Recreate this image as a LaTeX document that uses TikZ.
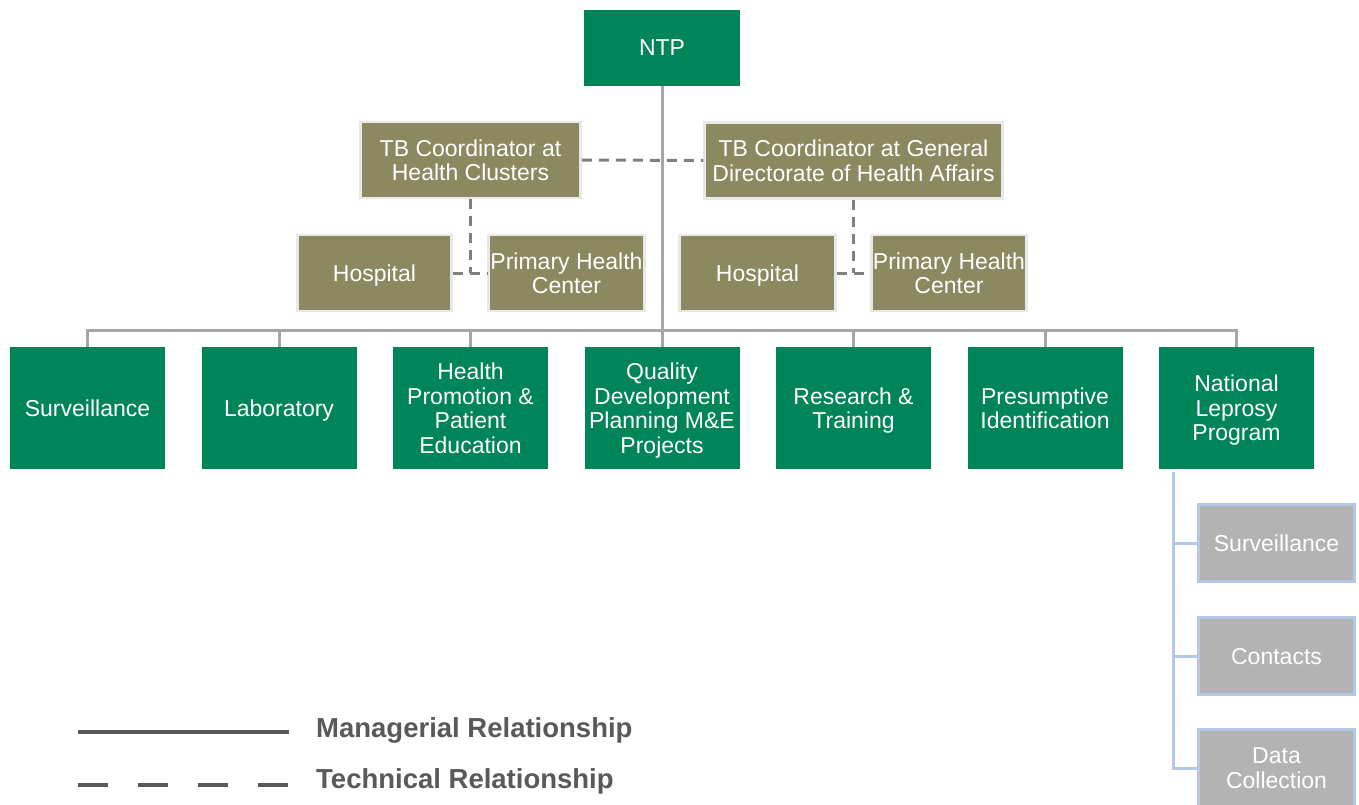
\documentclass[tikz,border=0pt]{standalone}
\usepackage{fontspec}
\setmainfont{Liberation Sans}
\definecolor{ntpgreen}{HTML}{00855A}
\definecolor{olivebox}{HTML}{8C8960}
\definecolor{oliveedge}{HTML}{E8E8E8}
\definecolor{subgray}{HTML}{B3B3B3}
\definecolor{subblue}{HTML}{B4C7E7}
\definecolor{linegray}{HTML}{A6A6A6}
\definecolor{dashgray}{HTML}{808080}
\definecolor{legendgray}{HTML}{595959}
\tikzset{
  boxbase/.style={rectangle, inner sep=0pt, align=center, text=white, text depth=0pt,
    font=\fontsize{23}{24.5}\selectfont},
  greenbox/.style={boxbase, fill=ntpgreen, minimum width=155pt, minimum height=122pt},
  ntpbox/.style={boxbase, fill=ntpgreen, minimum width=156pt, minimum height=76pt},
  olivenode/.style={boxbase, fill=olivebox, draw=oliveedge, line width=2.5pt, minimum height=76pt},
  subbox/.style={boxbase, fill=subgray, draw=subblue, line width=3pt, minimum width=156pt, minimum height=77pt},
  mgr/.style={draw=linegray, line width=3pt},
  tech/.style={draw=dashgray, line width=3pt, dash pattern=on 10pt off 7pt},
  subline/.style={draw=subblue, line width=3pt},
  legline/.style={draw=legendgray, line width=4pt},
  legtext/.style={anchor=west, text=legendgray, inner sep=0pt, text depth=0pt,
    font=\fontsize{27.5}{30}\selectfont\bfseries},
}
\begin{document}
\begin{tikzpicture}[x=1pt,y=-1pt]
\clip (0,0) rectangle (1359,805);
\fill[white] (0,0) rectangle (1359,805);

% top
\node[ntpbox] (ntp) at (662,48) {NTP};

% coordinators
\node[olivenode, minimum width=220pt] (tbhc) at (470.5,160) {TB Coordinator at\\Health Clusters};
\node[olivenode, minimum width=298pt] (tbgd) at (853.5,160.5) {TB Coordinator at General\\Directorate of Health Affairs};
\node[olivenode, minimum width=154pt] (hosp1) at (374.5,273) {Hospital};
\node[olivenode, minimum width=156pt] (phc1) at (566.5,273) {Primary Health\\Center};
\node[olivenode, minimum width=156pt] (hosp2) at (757.5,273) {Hospital};
\node[olivenode, minimum width=155pt] (phc2) at (949,273) {Primary Health\\Center};

% green row
\node[greenbox] (g1) at (87.5,408) {Surveillance};
\node[greenbox] (g2) at (279,408) {Laboratory};
\node[greenbox] (g3) at (470.5,408) {Health\\Promotion \&\\Patient\\Education};
\node[greenbox] (g4) at (662,408) {Quality\\Development\\Planning M\&E\\Projects};
\node[greenbox] (g5) at (853.5,408) {Research \&\\Training};
\node[greenbox] (g6) at (1045,408) {Presumptive\\Identification};
\node[greenbox] (g7) at (1236.5,408) {National\\Leprosy\\Program};

% leprosy sub-boxes
\node[subbox] (s1) at (1276.5,543) {Surveillance};
\node[subbox] (s2) at (1276.5,656) {Contacts};
\node[subbox] (s3) at (1276.5,768) {Data\\Collection};

% managerial connectors
\coordinate (bus) at (662,330);
\draw[mgr] (ntp.south) -- (bus);
\foreach \g in {g1,g2,g3,g4,g5,g6,g7}{
  \draw[mgr] (\g.north) |- (bus);
}

% technical connectors
\draw[tech] (tbhc.east) -- (tbgd.west);
\draw[tech] (tbhc.south) -- (tbhc.south |- hosp1.east);
\draw[tech] (hosp1.east) -- (phc1.west);
\draw[tech] (tbgd.south) -- (tbgd.south |- hosp2.east);
\draw[tech] (hosp2.east) -- (phc2.west);

% leprosy connectors
\coordinate (lp) at (1173,472);
\draw[subline] (lp) |- (s1.west);
\draw[subline] (lp) |- (s2.west);
\draw[subline] (lp) |- (s3.west);

% legend
\coordinate (la) at (78,732);
\coordinate (lb) at (289,732);
\coordinate (lc) at (78,785);
\coordinate (ld) at (289,785);
\draw[legline] (la) -- (lb);
\draw[legline, dash pattern=on 30pt off 30pt] (lc) -- (ld);
\node[legtext] (lt1) at (316,728) {Managerial Relationship};
\node[legtext] (lt2) at (316,779) {Technical Relationship};
\end{tikzpicture}
\end{document}
